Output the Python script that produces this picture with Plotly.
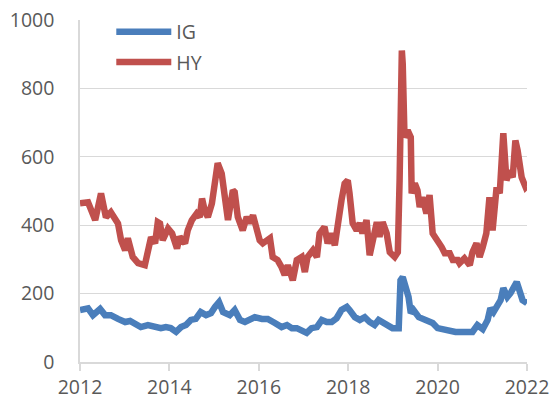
import plotly.graph_objects as go

# Decimal-year positions and values
hy_years = [2012.00, 2012.18, 2012.34, 2012.47, 2012.58, 2012.69, 2012.85, 2012.92, 2013.01, 2013.07,
            2013.18, 2013.30, 2013.45, 2013.52, 2013.59, 2013.68, 2013.74, 2013.79, 2013.85, 2013.97,
            2014.06, 2014.17, 2014.23, 2014.35, 2014.41, 2014.50, 2014.61, 2014.68, 2014.73, 2014.79,
            2014.86, 2014.95, 2015.02, 2015.08, 2015.17, 2015.24, 2015.31, 2015.42, 2015.46, 2015.53,
            2015.64, 2015.73, 2015.80, 2015.87, 2015.96, 2016.02, 2016.09, 2016.25, 2016.31, 2016.42,
            2016.51, 2016.58, 2016.65, 2016.76, 2016.85, 2016.96, 2017.03, 2017.09, 2017.21, 2017.30,
            2017.36, 2017.47, 2017.54, 2017.63, 2017.70, 2017.77, 2017.85, 2017.92, 2017.99, 2018.03,
            2018.10, 2018.19, 2018.26, 2018.32, 2018.41, 2018.48, 2018.55, 2018.64, 2018.70, 2018.77,
            2018.86, 2018.93, 2019.04, 2019.11, 2019.15, 2019.20, 2019.22, 2019.26, 2019.33, 2019.40,
            2019.42, 2019.49, 2019.55, 2019.60, 2019.66, 2019.75, 2019.82, 2019.89, 2020.00, 2020.09,
            2020.16, 2020.27, 2020.34, 2020.45, 2020.49, 2020.60, 2020.72, 2020.78, 2020.87, 2020.94,
            2021.01, 2021.09, 2021.16, 2021.23, 2021.32, 2021.39, 2021.47, 2021.54, 2021.61, 2021.68,
            2021.74, 2021.79, 2021.88, 2021.97, 2022.00]
hy_values = [464, 467, 415, 493, 423, 438, 405, 356, 327, 362,
             307, 289, 283, 318, 365, 347, 409, 405, 356, 390,
             376, 332, 366, 347, 385, 414, 434, 424, 478, 443,
             424, 463, 537, 581, 551, 463, 415, 502, 497, 424,
             385, 424, 406, 429, 385, 356, 347, 362, 307, 298,
             277, 254, 283, 239, 298, 307, 263, 307, 327, 307,
             376, 395, 347, 376, 341, 415, 473, 522, 531, 493,
             406, 385, 406, 376, 415, 312, 356, 409, 366, 409,
             376, 321, 307, 321, 531, 911, 872, 657, 677, 657,
             493, 522, 502, 453, 482, 434, 488, 376, 356, 336,
             318, 318, 298, 298, 289, 303, 283, 321, 347, 307,
             336, 376, 482, 385, 511, 493, 669, 531, 560, 540,
             648, 619, 540, 511, 515]

ig_years = [2012.00, 2012.18, 2012.29, 2012.45, 2012.56, 2012.69, 2012.85, 2013.01, 2013.12, 2013.23,
            2013.36, 2013.52, 2013.68, 2013.81, 2013.92, 2014.03, 2014.15, 2014.26, 2014.37, 2014.48,
            2014.59, 2014.70, 2014.82, 2014.93, 2015.02, 2015.11, 2015.20, 2015.26, 2015.35, 2015.46,
            2015.58, 2015.69, 2015.80, 2015.91, 2016.07, 2016.20, 2016.36, 2016.51, 2016.63, 2016.74,
            2016.85, 2016.96, 2017.07, 2017.18, 2017.30, 2017.41, 2017.52, 2017.63, 2017.74, 2017.85,
            2017.97, 2018.03, 2018.15, 2018.26, 2018.37, 2018.48, 2018.59, 2018.68, 2018.84, 2018.99,
            2019.13, 2019.17, 2019.22, 2019.31, 2019.35, 2019.40, 2019.46, 2019.58, 2019.73, 2019.89,
            2020.00, 2020.18, 2020.40, 2020.63, 2020.78, 2020.89, 2021.01, 2021.12, 2021.18, 2021.25,
            2021.34, 2021.41, 2021.47, 2021.56, 2021.63, 2021.68, 2021.77, 2021.83, 2021.90, 2022.00]
ig_values = [152, 157, 137, 155, 137, 137, 126, 117, 120, 114,
             102, 108, 102, 99, 102, 99, 88, 102, 108, 123,
             126, 146, 137, 143, 161, 175, 146, 143, 137, 152,
             123, 117, 126, 131, 126, 126, 114, 102, 108, 99,
             99, 93, 85, 99, 102, 123, 117, 117, 128, 152,
             161, 152, 131, 123, 131, 117, 108, 123, 108, 99,
             99, 239, 248, 201, 190, 143, 152, 131, 123, 114,
             99, 93, 88, 88, 88, 108, 96, 123, 157, 146,
             166, 181, 216, 190, 201, 210, 234, 210, 181, 172]

x_ticks = [2012, 2014, 2016, 2018, 2020, 2022]
y_ticks = [0, 200, 400, 600, 800, 1000]

FONT = "Open Sans"
GREY = "#595959"
GRID = "#d9d9d9"

fig = go.Figure()
fig.add_trace(go.Scatter(x=ig_years, y=ig_values, name="IG", mode="lines",
                         legendgroup="a",
                         line=dict(color="#4a7ebb", width=6.5)))
fig.add_trace(go.Scatter(x=hy_years, y=hy_values, name="HY", mode="lines",
                         legendgroup="b",
                         line=dict(color="#c0504d", width=6.5)))

fig.update_layout(
    width=552, height=401,
    margin=dict(l=80, r=25, t=20, b=39, autoexpand=False),
    paper_bgcolor="white", plot_bgcolor="white",
    font=dict(family=FONT, size=19.5, color=GREY),
    showlegend=True,
    legend=dict(x=0.07, y=1.022, xanchor="left", yanchor="top",
                bgcolor="rgba(0,0,0,0)", traceorder="grouped",
                tracegroupgap=2, itemwidth=55,
                font=dict(family=FONT, size=19.5, color=GREY)),
)
fig.update_xaxes(range=[2012, 2022], tickvals=x_ticks, ticktext=[str(t) for t in x_ticks],
                 showgrid=False, zeroline=False, automargin=False,
                 showline=True, linecolor=GRID, linewidth=1.5,
                 ticks="outside", ticklen=7, tickcolor=GRID, tickwidth=1.5)
fig.update_yaxes(range=[0, 1000], tickvals=y_ticks, automargin=False,
                 showgrid=True, gridcolor=GRID, gridwidth=1.3,
                 zeroline=False,
                 showline=True, linecolor=GRID, linewidth=1.5,
                 ticks="", ticklabelstandoff=20)

fig.write_html("out.html", config={"displayModeBar": False},
               post_script="document.body.style.margin='0';document.body.style.overflow='hidden';")
